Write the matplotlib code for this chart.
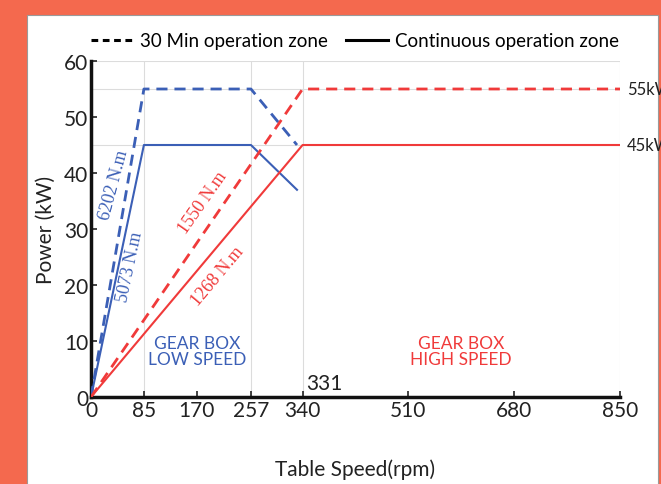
import matplotlib.pyplot as plt
from matplotlib.lines import Line2D
from matplotlib.patches import Rectangle

# Data
speed_low = [0, 85, 257, 331]
power_low_30 = [0, 55, 55, 45]
power_low_cont = [0, 45, 45, 37]
speed_high = [0, 340, 850]
power_high_30 = [0, 55, 55]
power_high_cont = [0, 45, 45]

x_ticks = [0, 85, 170, 257, 340, 510, 680, 850]
y_ticks = [0, 10, 20, 30, 40, 50, 60]
x_grid = [85, 257, 340, 850]
y_grid = [45, 55, 60]

BLUE = '#3b5fb6'
RED = '#f03a3a'
ORANGE = '#f4694e'

plt.rcParams['font.family'] = ['Lato', 'DejaVu Sans']

fig = plt.figure(figsize=(6.61, 4.85), dpi=100)
fig.patch.set_facecolor(ORANGE)
# white panel with a thin grey edge, kept behind the axes
panel = Rectangle((27 / 661, -0.01), 631 / 661, 469 / 485 + 0.01, transform=fig.transFigure,
                  facecolor='white', edgecolor='#9a9a9a', lw=0.8, zorder=-10)
fig.patches.append(panel)

ax = fig.add_axes([91 / 661, 87 / 485, 529 / 661, 336 / 485])
ax.set_facecolor('none')

for g in x_grid:
    ax.axvline(g, color='#dcdcdc', lw=0.8, zorder=1)
for g in y_grid:
    ax.axhline(g, color='#dcdcdc', lw=0.8, zorder=1)

dash = (4, 2.5)
ax.plot(speed_low, power_low_30, color=BLUE, lw=2, ls='--', dashes=dash, zorder=3)
ax.plot(speed_low, power_low_cont, color=BLUE, lw=1.5, zorder=3)
ax.plot(speed_high, power_high_30, color=RED, lw=2, ls='--', dashes=dash, zorder=3)
ax.plot(speed_high, power_high_cont, color=RED, lw=1.5, zorder=3)

ax.set_xlim(0, 850)
ax.set_ylim(0, 60)
ax.set_xticks(x_ticks)
ax.set_yticks(y_ticks)
ax.tick_params(direction='in', length=4, width=1.2, labelsize=15, colors='#222222', pad=2)
for s in ['top', 'right']:
    ax.spines[s].set_visible(False)
for s in ['left', 'bottom']:
    ax.spines[s].set_linewidth(2.5)
    ax.spines[s].set_color('#111111')

ax.set_xlabel('Table Speed(rpm)', fontsize=15, labelpad=28, color='#222222')
ax.set_ylabel('Power (kW)', fontsize=15, labelpad=6, color='#222222')

# torque labels along the ramps
serif = dict(family='Liberation Serif', fontsize=13, ha='center', va='center')
ax.text(37, 38, '6202 N.m', color=BLUE, rotation=75, **serif)
ax.text(63, 23.4, '5073 N.m', color=BLUE, rotation=78, **serif)
ax.text(180, 34.8, '1550 N.m', color=RED, rotation=55, **serif)
ax.text(204, 21.6, '1268 N.m', color=RED, rotation=50, **serif)

ax.text(170, 8.2, 'GEAR BOX\nLOW SPEED', color=BLUE, fontsize=12.5, ha='center', va='center',
        linespacing=0.95)
ax.text(595, 8.2, 'GEAR BOX\nHIGH SPEED', color=RED, fontsize=12.5, ha='center', va='center',
        linespacing=0.95)
ax.text(346, 0.8, '331', fontsize=15, color='#222222', ha='left', va='bottom')

ax.text(861, 55, '55kW', fontsize=12, color='#222222', ha='left', va='center', clip_on=False)
ax.text(861, 45, '45kW', fontsize=12, color='#222222', ha='left', va='center', clip_on=False)

handles = [Line2D([], [], color='black', lw=2.2, ls='--', dashes=(2.2, 1.5)),
           Line2D([], [], color='black', lw=2.2)]
fig.legend(handles, ['30 Min operation zone', 'Continuous operation zone'], ncol=2,
           loc='center', bbox_to_anchor=(355 / 661, 1 - 42 / 485), frameon=False,
           fontsize=13.5, handlelength=2.2, handletextpad=0.4, columnspacing=1.0)

fig.savefig('out.png', dpi=100, facecolor=fig.get_facecolor())
